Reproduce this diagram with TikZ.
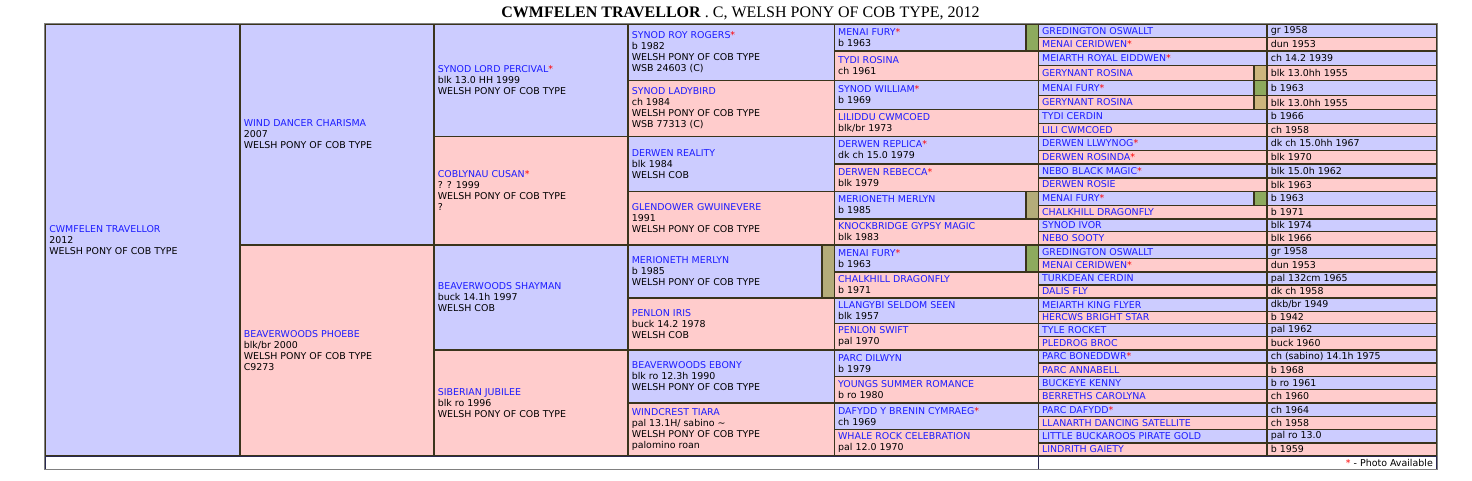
\documentclass[tikz,border=0pt]{standalone}
\usepackage{fontspec}
\setmainfont{DejaVu Sans}
\newfontfamily\titlefont{Liberation Serif}

\definecolor{sirefill}{RGB}{204,204,255}
\definecolor{damfill}{RGB}{255,204,204}
\definecolor{gridline}{RGB}{58,52,28}
\definecolor{namecol}{RGB}{28,28,255}
\definecolor{markgreen}{RGB}{141,170,94}
\definecolor{markkhaki}{RGB}{180,172,122}
\definecolor{marktan}{RGB}{205,181,125}
\definecolor{footline}{RGB}{40,40,80}

\tikzset{
  cellline/.style={draw=gridline, line width=1.4pt},
  celltxt/.style={anchor=west, inner sep=0pt, align=left,
    font=\fontsize{9.45}{11}\selectfont},
  titletxt/.style={inner sep=0pt, font=\titlefont\fontsize{16}{18}\selectfont},
}

\newcommand{\nm}[1]{\textcolor{namecol}{#1}}
\newcommand{\ph}{\textcolor{red}{*}}
% name, fill, x1, y1, x2, y2, text
\newcommand{\pedcell}[7]{%
  \draw[cellline, fill=#2] (#3,#4) rectangle (#5,#6);
  \node[celltxt] (#1) at ({#3+3.6},{(#4+#6)/2}) {#7};}
\newcommand{\flagcell}[5]{\draw[cellline, fill=#1] (#2,#3) rectangle (#4,#5);}

\begin{document}
\begin{tikzpicture}[x=1pt,y=-1pt]
    \useasboundingbox (0,0) rectangle (1472,480);
    \node[titletxt] (title) at (740.5,13.5)
      {\textbf{CWMFELEN TRAVELLOR} . C, WELSH PONY OF COB TYPE, 2012};

    % generation 1 and 2
    \pedcell{horse}{sirefill}{45.5}{24}{240}{456}{\nm{CWMFELEN TRAVELLOR}\\2012\\WELSH PONY OF COB TYPE}
    \pedcell{s}{sirefill}{240}{24}{434}{245}{\nm{WIND DANCER CHARISMA}\\2007\\WELSH PONY OF COB TYPE}
    \pedcell{d}{damfill}{240}{245}{434}{456}{\nm{BEAVERWOODS PHOEBE}\\blk/br 2000\\WELSH PONY OF COB TYPE\\C9273}

    % generation 3
    \pedcell{ss}{sirefill}{434}{24}{628}{136.3}{\nm{SYNOD LORD PERCIVAL}\ph\\blk 13.0 HH 1999\\WELSH PONY OF COB TYPE}
    \pedcell{sd}{damfill}{434}{136.3}{628}{245}{\nm{COBLYNAU CUSAN}\ph\\? ? 1999\\WELSH PONY OF COB TYPE\\?}
    \pedcell{ds}{sirefill}{434}{245}{628}{349.8}{\nm{BEAVERWOODS SHAYMAN}\\buck 14.1h 1997\\WELSH COB}
    \pedcell{dd}{damfill}{434}{349.8}{628}{456}{\nm{SIBERIAN JUBILEE}\\blk ro 1996\\WELSH PONY OF COB TYPE}

    % generation 4
    \pedcell{sss}{sirefill}{628}{24}{834.3}{80.3}{\nm{SYNOD ROY ROGERS}\ph\\b 1982\\WELSH PONY OF COB TYPE\\WSB 24603 (C)}
    \pedcell{ssd}{damfill}{628}{80.3}{834.3}{136.3}{\nm{SYNOD LADYBIRD}\\ch 1984\\WELSH PONY OF COB TYPE\\WSB 77313 (C)}
    \pedcell{sds}{sirefill}{628}{136.3}{834.3}{191.2}{\nm{DERWEN REALITY}\\blk 1984\\WELSH COB}
    \pedcell{sdd}{damfill}{628}{191.2}{834.3}{245}{\nm{GLENDOWER GWUINEVERE}\\1991\\WELSH PONY OF COB TYPE}
    \pedcell{dss}{sirefill}{628}{245}{822}{298}{\nm{MERIONETH MERLYN}\\b 1985\\WELSH PONY OF COB TYPE}
    \flagcell{markkhaki}{822}{245}{834.3}{298}
    \pedcell{dsd}{damfill}{628}{298}{834.3}{349.8}{\nm{PENLON IRIS}\\buck 14.2 1978\\WELSH COB}
    \pedcell{dds}{sirefill}{628}{349.8}{834.3}{403}{\nm{BEAVERWOODS EBONY}\\blk ro 12.3h 1990\\WELSH PONY OF COB TYPE}
    \pedcell{ddd}{damfill}{628}{403}{834.3}{456}{\nm{WINDCREST TIARA}\\pal 13.1H/ sabino \textasciitilde\\WELSH PONY OF COB TYPE\\palomino roan}

    % generation 5
    \pedcell{ssss}{sirefill}{834.3}{24}{1026}{51}{\nm{MENAI FURY}\ph\\b 1963}
    \flagcell{markgreen}{1026}{24}{1038.3}{51}
    \pedcell{sssd}{damfill}{834.3}{51}{1038.3}{80.3}{\nm{TYDI ROSINA}\\ch 1961}
    \pedcell{ssds}{sirefill}{834.3}{80.3}{1038.3}{109.5}{\nm{SYNOD WILLIAM}\ph\\b 1969}
    \pedcell{ssdd}{damfill}{834.3}{109.5}{1038.3}{136.3}{\nm{LILIDDU CWMCOED}\\blk/br 1973}
    \pedcell{sdss}{sirefill}{834.3}{136.3}{1038.3}{163.8}{\nm{DERWEN REPLICA}\ph\\dk ch 15.0 1979}
    \pedcell{sdsd}{damfill}{834.3}{163.8}{1038.3}{191.2}{\nm{DERWEN REBECCA}\ph\\blk 1979}
    \pedcell{sdds}{sirefill}{834.3}{191.2}{1026}{218.8}{\nm{MERIONETH MERLYN}\\b 1985}
    \flagcell{markkhaki}{1026}{191.2}{1038.3}{218.8}
    \pedcell{sddd}{damfill}{834.3}{218.8}{1038.3}{245}{\nm{KNOCKBRIDGE GYPSY MAGIC}\\blk 1983}
    \pedcell{dsss}{sirefill}{834.3}{245}{1026}{272}{\nm{MENAI FURY}\ph\\b 1963}
    \flagcell{markgreen}{1026}{245}{1038.3}{272}
    \pedcell{dssd}{damfill}{834.3}{272}{1038.3}{298}{\nm{CHALKHILL DRAGONFLY}\\b 1971}
    \pedcell{dsds}{sirefill}{834.3}{298}{1038.3}{323.3}{\nm{LLANGYBI SELDOM SEEN}\\blk 1957}
    \pedcell{dsdd}{damfill}{834.3}{323.3}{1038.3}{349.8}{\nm{PENLON SWIFT}\\pal 1970}
    \pedcell{ddss}{sirefill}{834.3}{349.8}{1038.3}{376.4}{\nm{PARC DILWYN}\\b 1979}
    \pedcell{ddsd}{damfill}{834.3}{376.4}{1038.3}{403}{\nm{YOUNGS SUMMER ROMANCE}\\b ro 1980}
    \pedcell{ddds}{sirefill}{834.3}{403}{1038.3}{429.5}{\nm{DAFYDD Y BRENIN CYMRAEG}\ph\\ch 1969}
    \pedcell{dddd}{damfill}{834.3}{429.5}{1038.3}{456}{\nm{WHALE ROCK CELEBRATION}\\pal 12.0 1970}

    % generation 6: name and details
    \pedcell{sssss}{sirefill}{1038.3}{24}{1267}{37.2}{\nm{GREDINGTON OSWALLT}}
    \pedcell{sssss-i}{sirefill}{1267}{24}{1436.5}{37.2}{gr 1958}
    \pedcell{ssssd}{damfill}{1038.3}{37.2}{1267}{51}{\nm{MENAI CERIDWEN}\ph}
    \pedcell{ssssd-i}{damfill}{1267}{37.2}{1436.5}{51}{dun 1953}
    \pedcell{sssds}{sirefill}{1038.3}{51}{1267}{65.5}{\nm{MEIARTH ROYAL EIDDWEN}\ph}
    \pedcell{sssds-i}{sirefill}{1267}{51}{1436.5}{65.5}{ch 14.2 1939}
    \pedcell{sssdd}{damfill}{1038.3}{65.5}{1254}{80.3}{\nm{GERYNANT ROSINA}}
    \flagcell{marktan}{1254}{65.5}{1267}{80.3}
    \pedcell{sssdd-i}{damfill}{1267}{65.5}{1436.5}{80.3}{blk 13.0hh 1955}
    \pedcell{ssdss}{sirefill}{1038.3}{80.3}{1254}{95.5}{\nm{MENAI FURY}\ph}
    \flagcell{markgreen}{1254}{80.3}{1267}{95.5}
    \pedcell{ssdss-i}{sirefill}{1267}{80.3}{1436.5}{95.5}{b 1963}
    \pedcell{ssdsd}{damfill}{1038.3}{95.5}{1254}{109.5}{\nm{GERYNANT ROSINA}}
    \flagcell{marktan}{1254}{95.5}{1267}{109.5}
    \pedcell{ssdsd-i}{damfill}{1267}{95.5}{1436.5}{109.5}{blk 13.0hh 1955}
    \pedcell{ssdds}{sirefill}{1038.3}{109.5}{1267}{123.2}{\nm{TYDI CERDIN}}
    \pedcell{ssdds-i}{sirefill}{1267}{109.5}{1436.5}{123.2}{b 1966}
    \pedcell{ssddd}{damfill}{1038.3}{123.2}{1267}{136.3}{\nm{LILI CWMCOED}}
    \pedcell{ssddd-i}{damfill}{1267}{123.2}{1436.5}{136.3}{ch 1958}
    \pedcell{sdsss}{sirefill}{1038.3}{136.3}{1267}{150.5}{\nm{DERWEN LLWYNOG}\ph}
    \pedcell{sdsss-i}{sirefill}{1267}{136.3}{1436.5}{150.5}{dk ch 15.0hh 1967}
    \pedcell{sdssd}{damfill}{1038.3}{150.5}{1267}{163.8}{\nm{DERWEN ROSINDA}\ph}
    \pedcell{sdssd-i}{damfill}{1267}{150.5}{1436.5}{163.8}{blk 1970}
    \pedcell{sdsds}{sirefill}{1038.3}{163.8}{1267}{177.8}{\nm{NEBO BLACK MAGIC}\ph}
    \pedcell{sdsds-i}{sirefill}{1267}{163.8}{1436.5}{177.8}{blk 15.0h 1962}
    \pedcell{sdsdd}{damfill}{1038.3}{177.8}{1267}{191.2}{\nm{DERWEN ROSIE}}
    \pedcell{sdsdd-i}{damfill}{1267}{177.8}{1436.5}{191.2}{blk 1963}
    \pedcell{sddss}{sirefill}{1038.3}{191.2}{1254}{205.5}{\nm{MENAI FURY}\ph}
    \flagcell{markgreen}{1254}{191.2}{1267}{205.5}
    \pedcell{sddss-i}{sirefill}{1267}{191.2}{1436.5}{205.5}{b 1963}
    \pedcell{sddsd}{damfill}{1038.3}{205.5}{1267}{218.8}{\nm{CHALKHILL DRAGONFLY}}
    \pedcell{sddsd-i}{damfill}{1267}{205.5}{1436.5}{218.8}{b 1971}
    \pedcell{sddds}{sirefill}{1038.3}{218.8}{1267}{231.7}{\nm{SYNOD IVOR}}
    \pedcell{sddds-i}{sirefill}{1267}{218.8}{1436.5}{231.7}{blk 1974}
    \pedcell{sdddd}{damfill}{1038.3}{231.7}{1267}{245}{\nm{NEBO SOOTY}}
    \pedcell{sdddd-i}{damfill}{1267}{231.7}{1436.5}{245}{blk 1966}
    \pedcell{dssss}{sirefill}{1038.3}{245}{1267}{258.2}{\nm{GREDINGTON OSWALLT}}
    \pedcell{dssss-i}{sirefill}{1267}{245}{1436.5}{258.2}{gr 1958}
    \pedcell{dsssd}{damfill}{1038.3}{258.2}{1267}{272}{\nm{MENAI CERIDWEN}\ph}
    \pedcell{dsssd-i}{damfill}{1267}{258.2}{1436.5}{272}{dun 1953}
    \pedcell{dssds}{sirefill}{1038.3}{272}{1267}{284.8}{\nm{TURKDEAN CERDIN}}
    \pedcell{dssds-i}{sirefill}{1267}{272}{1436.5}{284.8}{pal 132cm 1965}
    \pedcell{dssdd}{damfill}{1038.3}{284.8}{1267}{298}{\nm{DALIS FLY}}
    \pedcell{dssdd-i}{damfill}{1267}{284.8}{1436.5}{298}{dk ch 1958}
    \pedcell{dsdss}{sirefill}{1038.3}{298}{1267}{311.2}{\nm{MEIARTH KING FLYER}}
    \pedcell{dsdss-i}{sirefill}{1267}{298}{1436.5}{311.2}{dkb/br 1949}
    \pedcell{dsdsd}{damfill}{1038.3}{311.2}{1267}{323.3}{\nm{HERCWS BRIGHT STAR}}
    \pedcell{dsdsd-i}{damfill}{1267}{311.2}{1436.5}{323.3}{b 1942}
    \pedcell{dsdds}{sirefill}{1038.3}{323.3}{1267}{336.7}{\nm{TYLE ROCKET}}
    \pedcell{dsdds-i}{sirefill}{1267}{323.3}{1436.5}{336.7}{pal 1962}
    \pedcell{dsddd}{damfill}{1038.3}{336.7}{1267}{349.8}{\nm{PLEDROG BROC}}
    \pedcell{dsddd-i}{damfill}{1267}{336.7}{1436.5}{349.8}{buck 1960}
    \pedcell{ddsss}{sirefill}{1038.3}{349.8}{1267}{363}{\nm{PARC BONEDDWR}\ph}
    \pedcell{ddsss-i}{sirefill}{1267}{349.8}{1436.5}{363}{ch (sabino) 14.1h 1975}
    \pedcell{ddssd}{damfill}{1038.3}{363}{1267}{376.4}{\nm{PARC ANNABELL}}
    \pedcell{ddssd-i}{damfill}{1267}{363}{1436.5}{376.4}{b 1968}
    \pedcell{ddsds}{sirefill}{1038.3}{376.4}{1267}{389.5}{\nm{BUCKEYE KENNY}}
    \pedcell{ddsds-i}{sirefill}{1267}{376.4}{1436.5}{389.5}{b ro 1961}
    \pedcell{ddsdd}{damfill}{1038.3}{389.5}{1267}{403}{\nm{BERRETHS CAROLYNA}}
    \pedcell{ddsdd-i}{damfill}{1267}{389.5}{1436.5}{403}{ch 1960}
    \pedcell{dddss}{sirefill}{1038.3}{403}{1267}{416.2}{\nm{PARC DAFYDD}\ph}
    \pedcell{dddss-i}{sirefill}{1267}{403}{1436.5}{416.2}{ch 1964}
    \pedcell{dddsd}{damfill}{1038.3}{416.2}{1267}{429.5}{\nm{LLANARTH DANCING SATELLITE}}
    \pedcell{dddsd-i}{damfill}{1267}{416.2}{1436.5}{429.5}{ch 1958}
    \pedcell{dddds}{sirefill}{1038.3}{429.5}{1267}{442.8}{\nm{LITTLE BUCKAROOS PIRATE GOLD}}
    \pedcell{dddds-i}{sirefill}{1267}{429.5}{1436.5}{442.8}{pal ro 13.0}
    \pedcell{ddddd}{damfill}{1038.3}{442.8}{1267}{456}{\nm{LINDRITH GAIETY}}
    \pedcell{ddddd-i}{damfill}{1267}{442.8}{1436.5}{456}{b 1959}

    % footer
    \draw[draw=footline, line width=1pt, fill=white] (45.5,456) rectangle (1038.3,469);
    \draw[draw=footline, line width=1pt, fill=white] (1038.3,456) rectangle (1436.5,469);
    \node[celltxt, anchor=east] (photo) at (1433,462.5) {\ph{} - Photo Available};
    \draw[gray, line width=0.8pt] (44.8,23.3) rectangle (1437.2,469.7);
\end{tikzpicture}
\end{document}
